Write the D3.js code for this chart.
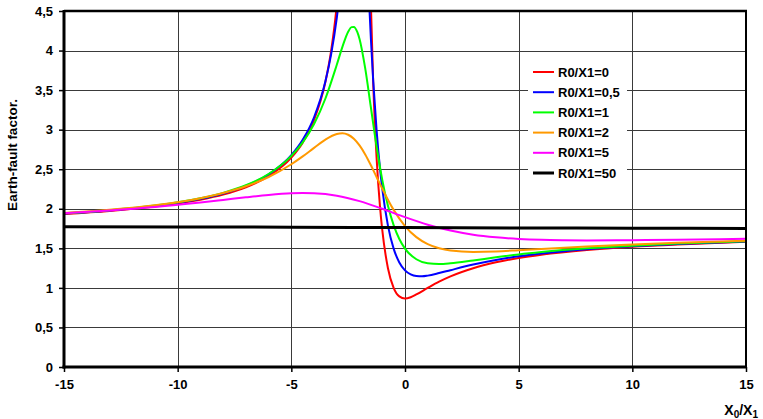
<!DOCTYPE html>
<html>
<head>
<meta charset="utf-8">
<script src="https://cdn.jsdelivr.net/npm/d3@7/dist/d3.min.js"></script>
<style>
  html, body { margin: 0; padding: 0; background: #fff; }
  svg text { font-family: "Liberation Sans", Arial, sans-serif; font-weight: bold; }
</style>
</head>
<body>
<svg id="chart" width="763" height="419"></svg>
<script>
// ---- Data ----
const seriesNames = ["R0/X1=0", "R0/X1=0,5", "R0/X1=1", "R0/X1=2", "R0/X1=5", "R0/X1=50"];
const seriesColors = ["#FF0000", "#0000FF", "#00FF00", "#FF9900", "#FF00FF", "#000000"];

const xR0 = [-15,-13,-11,-9,-8,-7,-6,-5,-4.5,-4,-3.5,-3.25,-3,-2.75,-2.5,-2.25,-1.75,-1.6,-1.5,-1.4,-1.25,-1.1,-1,-0.75,-0.5,-0.25,0,0.25,0.5,1,1.5,2,3,4,5,6,8,10,12,15];
const yR0 = [1.935,1.973,2.028,2.114,2.179,2.272,2.411,2.646,2.836,3.122,3.606,3.995,4.583,5.568,7.55,13.53,11.04,6.062,4.583,3.606,2.646,2.028,1.732,1.249,1.0,0.892,0.866,0.882,0.917,1.0,1.079,1.146,1.249,1.323,1.378,1.42,1.48,1.521,1.55,1.582];

const xR05 = [-15,-13,-11,-9,-8,-7,-6,-5,-4.5,-4,-3.5,-3.25,-3,-2.9,-2.75,-2.5,-2.25,-2,-1.75,-1.6,-1.5,-1.4,-1.25,-1.1,-1,-0.75,-0.5,-0.25,0,0.25,0.5,0.75,1,1.5,2,3,4,5,6,8,10,12,15];
const yR05 = [1.939,1.978,2.035,2.125,2.193,2.290,2.435,2.678,2.872,3.157,3.611,3.951,4.413,4.646,5.058,5.933,6.878,7.03,5.737,4.744,4.147,3.628,2.995,2.51,2.254,1.787,1.496,1.322,1.222,1.171,1.150,1.147,1.155,1.187,1.224,1.295,1.353,1.399,1.435,1.489,1.527,1.555,1.585];

const xR1 = [-15,-13,-11,-9,-8,-7,-6,-5,-4.5,-4,-3.5,-3,-2.75,-2.5,-2.35,-2.25,-2.1,-2,-1.75,-1.5,-1.25,-1,-0.75,-0.5,-0.25,0,0.5,1,1.5,2,3,4,5,6,8,10,12,15];
const yR1 = [1.942,1.982,2.040,2.132,2.201,2.297,2.440,2.668,2.839,3.072,3.394,3.821,4.050,4.238,4.296,4.299,4.236,4.147,3.774,3.280,2.787,2.366,2.037,1.793,1.618,1.496,1.362,1.311,1.302,1.311,1.347,1.387,1.423,1.453,1.500,1.534,1.560,1.588];

const xR2 = [-15,-13,-11,-9,-8,-7,-6,-5,-4.5,-4,-3.5,-3,-2.75,-2.5,-2.25,-2,-1.75,-1.5,-1.25,-1,-0.5,0,0.5,1,1.5,2,3,4,5,6,8,10,12,15];
const yR2 = [1.946,1.987,2.045,2.134,2.199,2.285,2.402,2.563,2.662,2.770,2.875,2.946,2.955,2.936,2.886,2.801,2.687,2.550,2.402,2.254,1.986,1.782,1.642,1.554,1.502,1.473,1.455,1.461,1.476,1.492,1.524,1.550,1.571,1.595];

const xR5 = [-15,-13,-11,-9,-8,-7,-6,-5,-4.5,-4,-3,-2,-1,0,1,2,3,4,5,6,7,8,10,12,15];
const yR5 = [1.945,1.979,2.023,2.080,2.112,2.145,2.175,2.196,2.200,2.197,2.166,2.097,2.000,1.894,1.799,1.725,1.673,1.640,1.619,1.607,1.602,1.600,1.603,1.609,1.620];

const xR50 = [-15,-10,-5,0,5,10,15];
const yR50 = [1.774,1.771,1.767,1.762,1.758,1.755,1.752];

const xTicks = [-15,-10,-5,0,5,10,15];
const yTicks = [0,0.5,1,1.5,2,2.5,3,3.5,4,4.5];
const yTitle = "Earth-fault factor.";

// ---- Layout ----
const svg = d3.select("#chart");
const L = 64, R = 746, T = 11, B = 367;
const x = d3.scaleLinear().domain([-15, 15]).range([L, R]);
const y = d3.scaleLinear().domain([0, 4.5]).range([B, T]);

const seriesX = [xR0, xR05, xR1, xR2, xR5, xR50];
const seriesY = [yR0, yR05, yR1, yR2, yR5, yR50];
const series = seriesNames.map((name, i) => ({
  name, color: seriesColors[i],
  width: i === 5 ? 3 : 2,
  points: seriesX[i].map((xv, j) => [xv, seriesY[i][j]])
}));

// gridlines
const grid = svg.append("g").attr("shape-rendering", "crispEdges");
grid.selectAll("line.h").data(yTicks.filter(d => d > 0 && d < 4.5)).join("line")
  .attr("x1", L).attr("x2", R)
  .attr("y1", d => Math.round(y(d)) + 0.5).attr("y2", d => Math.round(y(d)) + 0.5)
  .attr("stroke", "#3a3a3a").attr("stroke-width", 1);
grid.selectAll("line.v").data(xTicks.filter(d => d > -15 && d < 15)).join("line")
  .attr("y1", T).attr("y2", B)
  .attr("x1", d => Math.round(x(d)) + 0.5).attr("x2", d => Math.round(x(d)) + 0.5)
  .attr("stroke", "#3a3a3a").attr("stroke-width", 1);

// clip
svg.append("clipPath").attr("id", "plotclip")
  .append("rect").attr("x", L).attr("y", T).attr("width", R - L).attr("height", B - T);

const line = d3.line().x(d => x(d[0])).y(d => y(d[1])).curve(d3.curveMonotoneX);
svg.append("g").attr("clip-path", "url(#plotclip)")
  .selectAll("path").data(series).join("path")
  .attr("d", d => line(d.points))
  .attr("fill", "none")
  .attr("stroke", d => d.color)
  .attr("stroke-width", d => d.width)
  .attr("stroke-linejoin", "round");

// axes
const fmt = d => String(d).replace(".", ",");
const yAxis = svg.append("g").attr("transform", `translate(${L},0)`)
  .call(d3.axisLeft(y).tickValues(yTicks).tickFormat(fmt).tickSize(5).tickPadding(6));
const xAxis = svg.append("g").attr("transform", `translate(0,${B})`)
  .call(d3.axisBottom(x).tickValues(xTicks).tickFormat(d => d).tickSize(5).tickPadding(8));
[yAxis, xAxis].forEach(a => {
  a.select(".domain").remove();
  a.selectAll(".tick line").attr("stroke", "#000").attr("stroke-width", 1.5);
  a.selectAll("text").attr("font-size", 13).attr("fill", "#000")
    .attr("font-family", "'Liberation Sans', Arial, sans-serif").attr("font-weight", "bold");
});

// frame
const frame = svg.append("g").attr("stroke", "#000");
frame.append("line").attr("x1", L).attr("x2", L).attr("y1", T - 1).attr("y2", B + 1.5).attr("stroke-width", 3);
frame.append("line").attr("x1", L - 1.5).attr("x2", R + 1).attr("y1", B).attr("y2", B).attr("stroke-width", 3);
frame.append("line").attr("x1", L).attr("x2", R + 1).attr("y1", T).attr("y2", T).attr("stroke-width", 2.5);
frame.append("line").attr("x1", R).attr("x2", R).attr("y1", T).attr("y2", B).attr("stroke-width", 2);

// legend
const lg = svg.append("g");
lg.append("rect").attr("x", 528).attr("y", 62).attr("width", 99).attr("height", 121).attr("fill", "#fff");
const rows = lg.selectAll("g.row").data(series).join("g")
  .attr("transform", (d, i) => `translate(0,${72 + i * 20.2})`);
rows.append("line").attr("x1", 533).attr("x2", 554).attr("y1", 0).attr("y2", 0)
  .attr("stroke", d => d.color).attr("stroke-width", d => d.width);
rows.append("text").attr("x", 558).attr("y", 4.6).attr("font-size", 13).attr("fill", "#000")
  .text(d => d.name);

// axis titles
svg.append("text").attr("transform", "translate(17,155) rotate(-90)")
  .attr("text-anchor", "middle").attr("font-size", 13.5).text(yTitle);

const xt = svg.append("text").attr("x", 758).attr("y", 415).attr("text-anchor", "end").attr("font-size", 14);
xt.append("tspan").text("X");
xt.append("tspan").attr("font-size", 10).attr("dy", 3).text("0");
xt.append("tspan").attr("dy", -3).text("/X");
xt.append("tspan").attr("font-size", 10).attr("dy", 3).text("1");
</script>
</body>
</html>
